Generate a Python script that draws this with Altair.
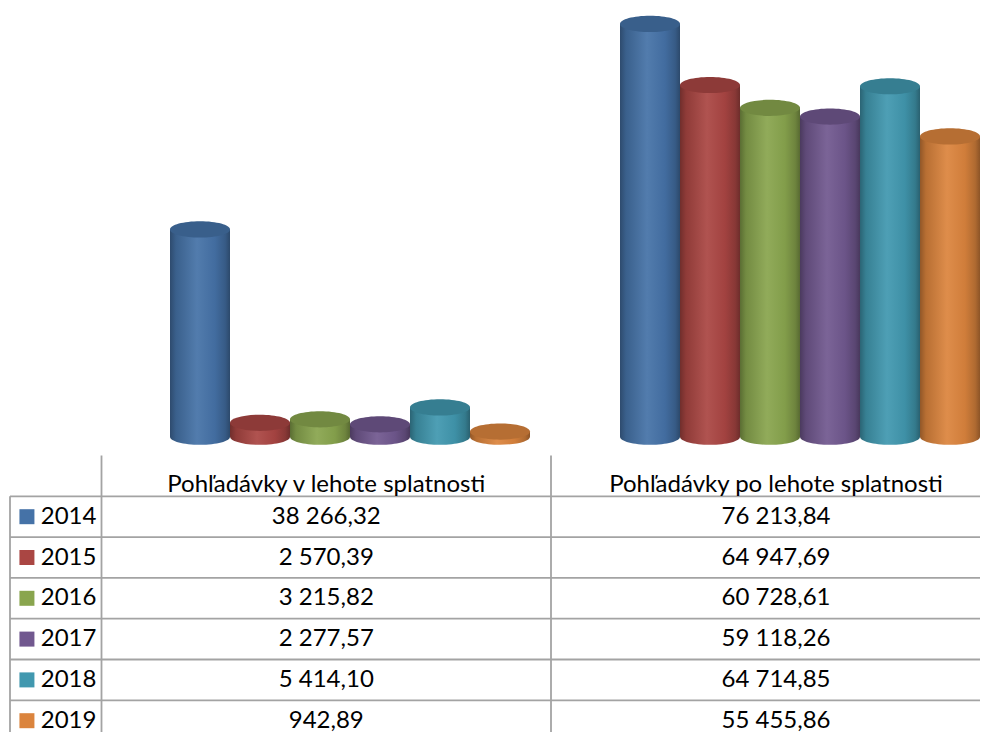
import altair as alt
import pandas as pd

# ---------------- data ----------------
years = ["2014", "2015", "2016", "2017", "2018", "2019"]
categories = ["Pohľadávky v lehote splatnosti", "Pohľadávky po lehote splatnosti"]
v_lehote = [38266.32, 2570.39, 3215.82, 2277.57, 5414.10, 942.89]
po_lehote = [76213.84, 64947.69, 60728.61, 59118.26, 64714.85, 55455.86]
colors = ["#4572A7", "#AA4643", "#89A54E", "#71588F", "#4198AF", "#DB843D"]

FONT = "Lato"
FS = 24


def shade(hexc, f):
    r, g, b = (int(hexc[i:i + 2], 16) for i in (1, 3, 5))
    if f <= 1:
        r, g, b = r * f, g * f, b * f
    else:
        t = f - 1
        r, g, b = r + (255 - r) * t, g + (255 - g) * t, b + (255 - b) * t
    return "#%02x%02x%02x" % tuple(int(max(0, min(255, round(v)))) for v in (r, g, b))


def body_gradient(c):
    stops = [(0.0, 0.66), (0.1, 0.84), (0.45, 1.07), (0.75, 0.95), (0.92, 0.8), (1.0, 0.64)]
    return {
        "gradient": "linear", "x1": 0, "x2": 1, "y1": 0, "y2": 0,
        "stops": [{"offset": o, "color": shade(c, f)} for o, f in stops],
    }


ELLIPSE = "M -1 0 A 1 0.27 0 1 0 1 0 A 1 0.27 0 1 0 -1 0 Z"

bars_df = pd.DataFrame({
    "cat": [categories[0]] * 6 + [categories[1]] * 6,
    "year": years * 2,
    "value": v_lehote + po_lehote,
})

X = alt.X("cat:N", scale=alt.Scale(domain=categories, range=[162, 972],
                                   paddingInner=0.2, paddingOuter=0), axis=None)
XO = alt.XOffset("year:N", scale=alt.Scale(domain=years, paddingInner=0, paddingOuter=0))
YSC = alt.Scale(domain=[0, 80000], range=[428.7, -4.54], nice=False, zero=True)

cyl_layers = []
for y, c in zip(years, colors):
    base = alt.Chart(bars_df).transform_filter(alt.datum.year == y)
    grad = body_gradient(c)
    bottom = base.mark_point(shape=ELLIPSE, size=3600, filled=True, fill=grad,
                             strokeWidth=0, opacity=1).encode(
        x=X, xOffset=XO, y=alt.Y(datum=0, scale=YSC, axis=None))
    body = base.mark_bar(color=grad).encode(
        x=X, xOffset=XO, y=alt.Y("value:Q", scale=YSC, axis=None), y2=alt.Y2(datum=0))
    top = base.mark_point(shape=ELLIPSE, size=3600, filled=True, fill=shade(c, 0.83),
                          strokeWidth=0, opacity=1).encode(
        x=X, xOffset=XO, y=alt.Y("value:Q", scale=YSC, axis=None))
    cyl_layers += [bottom, body, top]

cylinders = alt.layer(*cyl_layers)

# ---------------- table ----------------
TX = alt.Scale(domain=[0, 1, 2, 3], range=[2, 93.5, 543, 993], nice=False, zero=False)
TY = alt.Scale(domain=[0, 7], range=[447.5, 733.1], nice=False, zero=False)
GRID = "#A3A3A3"

hlines = pd.DataFrame({"r": [1, 2, 3, 4, 5, 6, 7], "c0": [0] * 7, "c1": [3] * 7})
vlines = pd.DataFrame({"c": [0, 1, 2], "r0": [1, 0, 0], "r1": [7, 7, 7]})

h_rules = alt.Chart(hlines).mark_rule(color=GRID, strokeWidth=1.8).encode(
    x=alt.X("c0:Q", scale=TX, axis=None), x2="c1:Q",
    y=alt.Y("r:Q", scale=TY, axis=None))
v_rules = alt.Chart(vlines).mark_rule(color=GRID, strokeWidth=1.8).encode(
    x=alt.X("c:Q", scale=TX, axis=None),
    y=alt.Y("r0:Q", scale=TY, axis=None), y2="r1:Q")


def fmt(v):
    return f"{v:,.2f}".replace(",", " ").replace(".", ",")


header_df = pd.DataFrame({"c": [1.5, 2.5], "r": [0.5, 0.5], "t": categories})
vals_df = pd.DataFrame({
    "c": [1.5] * 6 + [2.5] * 6,
    "r": [i + 1.5 for i in range(6)] * 2,
    "t": [fmt(v) for v in v_lehote] + [fmt(v) for v in po_lehote],
})
years_df = pd.DataFrame({"year": years, "r": [i + 1.5 for i in range(6)]})

header = alt.Chart(header_df).mark_text(font=FONT, fontSize=FS, color="#000000",
                                        baseline="alphabetic", dy=15.6).encode(
    x=alt.X("c:Q", scale=TX, axis=None), y=alt.Y("r:Q", scale=TY, axis=None), text="t:N")
values = alt.Chart(vals_df).mark_text(font=FONT, fontSize=FS, color="#000000",
                                      baseline="alphabetic", dy=7.0).encode(
    x=alt.X("c:Q", scale=TX, axis=None), y=alt.Y("r:Q", scale=TY, axis=None), text="t:N")
year_lbl = alt.Chart(years_df).mark_text(font=FONT, fontSize=FS, color="#000000",
                                         baseline="alphabetic", align="left", dy=7.0).encode(
    x=alt.X(datum=0.336, scale=TX, axis=None), y=alt.Y("r:Q", scale=TY, axis=None), text="year:N")
swatch = alt.Chart(years_df).mark_square(size=225, opacity=1, strokeWidth=0).encode(
    x=alt.X(datum=0.185, scale=TX, axis=None), y=alt.Y("r:Q", scale=TY, axis=None),
    color=alt.Color("year:N", scale=alt.Scale(domain=years, range=colors), legend=None))

table = alt.layer(h_rules, v_rules, header, values, swatch, year_lbl)

chart = alt.layer(cylinders, table).resolve_scale(
    x="independent", y="independent"
).properties(
    width=972, height=724, padding=0,
    autosize=alt.AutoSizeParams(type="none"),
).configure_view(stroke=None)

chart.save("out.html", embed_options={"renderer": "svg", "actions": False})
